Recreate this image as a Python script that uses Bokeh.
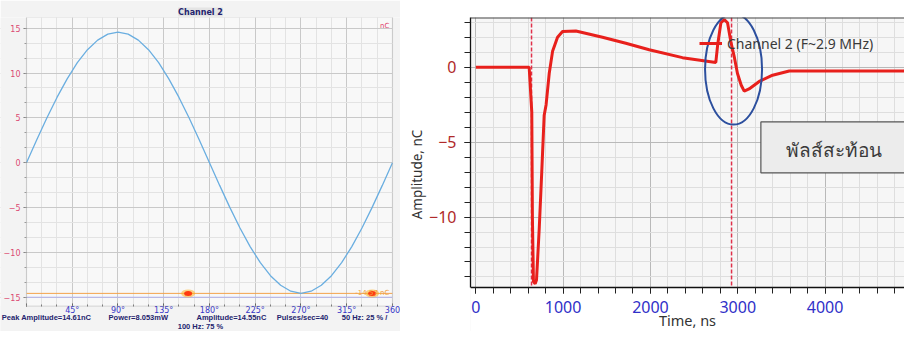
import numpy as np
from bokeh.plotting import figure
from bokeh.layouts import row
from bokeh.models import (Range1d, FixedTicker, Span, Label, Legend, LegendItem, LinearAxis,
                          BoxAnnotation)
from bokeh.core.properties import value
from bokeh.embed import file_html
from bokeh.resources import INLINE

# ---------------- Left panel data (phase-resolved view) ----------------
phase_deg = [0, 10, 20, 30, 40, 50, 60, 70, 80, 90, 100, 110, 120, 130, 140, 150, 160, 170, 180,
             190, 200, 210, 220, 230, 240, 250, 260, 270, 280, 290, 300, 310, 320, 330, 340, 350, 360]
sine_nc = [0.0, 2.53, 4.98, 7.28, 9.35, 11.15, 12.60, 13.67, 14.33, 14.55, 14.33, 13.67, 12.60, 11.15,
           9.35, 7.28, 4.98, 2.53, 0.0, -2.53, -4.98, -7.28, -9.35, -11.15, -12.60, -13.67, -14.33,
           -14.58, -14.33, -13.67, -12.60, -11.15, -9.35, -7.28, -4.98, -2.53, 0.0]
threshold_nc = -14.57
threshold_label = "-14.57 nC"
pulse_phase = [159, 340]
pulse_nc = [-14.57, -14.57]
phase_ticks = [0, 45, 90, 135, 180, 225, 270, 315, 360]
phase_labels = ["", "45°", "90°", "135°", "180°", "225°", "270°", "315°", "360"]
left_y_ticks = [-15, -10, -5, 0, 5, 10, 15]
status_pos = [19.7, 110, 201.6, 271.5, 332.5]
status_text = ["Peak Amplitude=14.61nC", "Power=8.053mW", "Amplitude=14.55nC", "Pulses/sec=40",
               "50 Hz: 25 % /"]
status_line2 = "100 Hz: 75 %"

# ---------------- Right panel data (pulse waveform) ----------------
time_ns = [0, 611, 641, 648, 660, 680, 695, 726, 755, 783, 805, 841, 879, 936, 993, 1146, 1451, 1718,
           1986, 2367, 2749, 2770, 2807, 2845, 2883, 2921, 2960, 2997, 3040, 3074, 3130, 3246, 3399,
           3590, 4000, 4500, 4905, 4990, 5077, 5120]
amp_nc = [0, 0, -3, -10, -14.3, -14.45, -14.2, -10.8, -7, -3.2, -2.5, -0.4, 1.06, 2.0, 2.38, 2.42, 2.0,
          1.6, 1.17, 0.64, 0.32, 1.5, 2.97, 3.18, 2.97, 1.7, 0.7, -0.42, -1.2, -1.6, -1.45, -0.95, -0.53,
          -0.25, -0.25, -0.25, -0.25, 0.0, 0.3, 0.4]
cursor_times = [638, 2929]
time_ticks = [0, 1000, 2000, 3000, 4000, 5000]
amp_ticks = [-10, -5, 0]
legend_label = "Channel 2 (F~2.9 MHz)"
reflect_x, reflect_y, reflect_w, reflect_h = [2952], [-0.13], [653], [7.4]
note_x, note_y, note_w, note_h = [4170], [-5.35], [1810], [3.4]
note_text_x, note_text_y = [4103], [-5.55]
note_text = ["พัลส์สะท้อน"]

FONT_L = "DejaVu Sans"
FONT_R = "Noto Sans"
PANEL_BG = "#f3f3f3"

# view extents (data units)
L_XV0, L_XV1 = -25.57, 367.9          # whole left canvas width
L_X0, L_X1 = 0, 360                   # plot box
L_YB, L_Y1 = -18.82, 16.19
L_BOX_Y0 = -16
R_X0, R_X1, R_YB, R_Y1 = -61, 4910, -17.64, 3.32
R_AXIS_Y = -14.7

# ======================= LEFT FIGURE =======================
L = figure(width=400, height=331, x_range=Range1d(L_XV0, L_XV1), y_range=Range1d(L_YB, L_Y1),
           output_backend="svg", toolbar_location=None,
           min_border_left=0, min_border_right=0, min_border_top=17, min_border_bottom=0)
L.background_fill_color = "#f8f8f8"
L.border_fill_color = PANEL_BG
L.outline_line_color = None

L.title.text = "Channel 2"
L.title.align = "center"
L.title.text_font = FONT_L
L.title.text_font_size = "8px"
L.title.text_font_style = "bold"
L.title.text_color = "#23236e"
L.title.background_fill_color = "#e4e4e4"
L.title.standoff = 2
L.title.offset = 0

L.xaxis.fixed_location = L_BOX_Y0
L.xaxis.ticker = FixedTicker(ticks=phase_ticks, minor_ticks=list(range(0, 361, 15)))
L.xaxis.major_label_overrides = {t: s for t, s in zip(phase_ticks, phase_labels)}
L.xaxis.axis_line_color = None
L.xaxis.major_tick_in = 3
L.xaxis.major_tick_out = 0
L.xaxis.minor_tick_in = 2
L.xaxis.minor_tick_out = 0
L.xaxis.major_tick_line_color = "#555555"
L.xaxis.minor_tick_line_color = "#777777"
L.xaxis.major_label_text_color = "#3535c8"
L.xaxis.major_label_text_font = FONT_L
L.xaxis.major_label_text_font_size = "8px"
L.xaxis.major_label_standoff = 0

status_axis = LinearAxis(ticker=FixedTicker(ticks=status_pos),
                         major_label_overrides={p: s for p, s in zip(status_pos, status_text)},
                         axis_line_color=None, major_tick_line_color=None, minor_tick_line_color=None,
                         major_tick_out=0, major_tick_in=0,
                         major_label_standoff=7, major_label_text_font="Liberation Sans",
                         major_label_text_font_style="bold", major_label_text_font_size="7.5px",
                         major_label_text_color="#23236e",
                         axis_label=status_line2, axis_label_standoff=-4,
                         axis_label_text_font="Liberation Sans", axis_label_text_font_style="bold",
                         axis_label_text_font_size="7.5px", axis_label_text_color="#23236e",
                         fixed_location=L_BOX_Y0)
L.add_layout(status_axis, "below")

L.yaxis.fixed_location = L_X0
L.yaxis.ticker = FixedTicker(ticks=left_y_ticks, minor_ticks=list(np.arange(-15, 15.01, 5 / 3)))
L.yaxis.bounds = (L_BOX_Y0, L_Y1)
L.yaxis.axis_line_color = None
L.yaxis.major_tick_in = 0
L.yaxis.major_tick_out = 3
L.yaxis.minor_tick_in = 0
L.yaxis.minor_tick_out = 2
L.yaxis.major_tick_line_color = "#777777"
L.yaxis.minor_tick_line_color = "#999999"
L.yaxis.major_label_text_color = "#dc4a72"
L.yaxis.major_label_text_font = FONT_L
L.yaxis.major_label_text_font_size = "8px"
L.yaxis.major_label_standoff = 3

L.xgrid.grid_line_color = "#c9c9c9"
L.ygrid.grid_line_color = "#c9c9c9"
L.xgrid.minor_grid_line_color = "#e3e3e3"
L.ygrid.minor_grid_line_color = "#e3e3e3"

L.add_layout(Span(location=-15, dimension="width", line_color="#b4b4ee", line_width=1, level="underlay"))
L.add_layout(Span(location=threshold_nc, dimension="width", line_color="#f3a24a", line_width=1,
                  level="underlay"))
# everything outside the plot box takes the panel colour
L.add_layout(BoxAnnotation(bottom=L_YB, top=L_BOX_Y0, fill_color=PANEL_BG,
                           fill_alpha=1.0, line_color=None, level="underlay"))
L.add_layout(BoxAnnotation(left=L_XV0, right=L_X0, fill_color=PANEL_BG,
                           fill_alpha=1.0, line_color=None, level="underlay"))
L.add_layout(BoxAnnotation(left=L_X1, right=L_XV1, fill_color=PANEL_BG,
                           fill_alpha=1.0, line_color=None, level="underlay"))
L.add_layout(BoxAnnotation(left=L_X0, right=L_X1, bottom=L_BOX_Y0, top=L_Y1, fill_color=None,
                           line_color="#9a9a9a", line_width=1.2))

L.line(phase_deg, sine_nc, line_color="#6aaee0", line_width=1.3)
L.ellipse(x=pulse_phase, y=pulse_nc, width=14, height=8, width_units="screen", height_units="screen",
          fill_color="#ffb020", fill_alpha=0.55, line_color=None)
L.ellipse(x=pulse_phase, y=pulse_nc, width=8, height=5, width_units="screen", height_units="screen",
          fill_color="#ff3a10", line_color=None)
L.add_layout(Label(x=357, y=threshold_nc, text=threshold_label, text_align="right", text_baseline="middle",
                   text_font=FONT_L, text_font_size="7px", text_color="#f0a040"))
L.add_layout(Label(x=357, y=15.2, text="nC", text_align="right", text_baseline="middle",
                   text_font=FONT_L, text_font_size="7px", text_color="#e0406a"))

# ======================= RIGHT FIGURE =======================
R = figure(width=504, height=331, x_range=Range1d(R_X0, R_X1), y_range=Range1d(R_YB, R_Y1),
           output_backend="svg", toolbar_location=None,
           min_border_left=70, min_border_right=0, min_border_top=17, min_border_bottom=0)
R.title = None
R.background_fill_color = "#f6f6f6"
R.border_fill_color = "white"
R.outline_line_color = None

R.xaxis.ticker = FixedTicker(ticks=time_ticks, minor_ticks=list(range(0, 5201, 200)))
R.yaxis.ticker = FixedTicker(ticks=amp_ticks, minor_ticks=list(range(-14, 4)))
for ax in (R.xaxis[0], R.yaxis[0]):
    ax.axis_line_color = "#111111"
    ax.axis_line_width = 1.3
    ax.major_tick_in = 0
    ax.major_tick_out = 6
    ax.minor_tick_in = 0
    ax.minor_tick_out = 6
    ax.major_tick_line_color = "#222222"
    ax.minor_tick_line_color = "#222222"
    ax.major_label_text_font = FONT_R
    ax.major_label_text_font_size = "16px"
    ax.axis_label_text_font = FONT_R
    ax.axis_label_text_font_style = "normal"
    ax.axis_label_text_color = "#333333"
R.xaxis.fixed_location = R_AXIS_Y
R.yaxis.bounds = (R_AXIS_Y, R_Y1)
R.xaxis.major_label_text_color = "#3030c8"
R.yaxis.major_label_text_color = "#b02a2a"
R.xaxis.major_label_standoff = 8
R.yaxis.major_label_standoff = 8
R.xaxis.axis_label = "Time, ns"
R.xaxis.axis_label_text_font_size = "14.5px"
R.xaxis.axis_label_standoff = -7
R.yaxis.axis_label = "Amplitude, nC"
R.yaxis.axis_label_text_font_size = "13.5px"
R.yaxis.axis_label_standoff = 0

R.xgrid.grid_line_color = "#b9b9b9"
R.ygrid.grid_line_color = "#b9b9b9"
R.xgrid.minor_grid_line_color = "#dedede"
R.ygrid.minor_grid_line_color = "#dedede"

for t in cursor_times:
    R.add_layout(Span(location=t, dimension="height", line_color="#e0304a", line_width=1.5,
                      line_dash="4 2", level="underlay"))
# white area below the time axis
R.add_layout(BoxAnnotation(left=R_X0, right=R_X1, bottom=R_YB, top=R_AXIS_Y, fill_color="white",
                           fill_alpha=1.0, line_color=None, level="underlay"))
R.add_layout(Span(location=R_Y1, dimension="width", line_color="#444444", line_width=2))

trace = R.line(time_ns, amp_nc, line_color="#e8201c", line_width=3)

R.ellipse(x=reflect_x, y=reflect_y, width=reflect_w, height=reflect_h, fill_color=None,
          line_color="#2c4f9e", line_width=2)
R.rect(x=note_x, y=note_y, width=note_w, height=note_h, fill_color="#ececec", line_color="#555555",
       line_width=1.2)
R.text(x=note_text_x, y=note_text_y, text=note_text, text_align="center", text_baseline="middle",
       text_font=value(FONT_R), text_font_size="19px", text_color="#3a3a3a")

legend = Legend(items=[LegendItem(label=legend_label, renderers=[trace])], location=(229, 278),
                background_fill_alpha=0, border_line_color=None, padding=0, margin=0, spacing=0,
                glyph_width=23, glyph_height=20, label_height=20, label_standoff=5,
                label_text_font=FONT_R, label_text_font_size="14px", label_text_color="#3a3a3a")
R.add_layout(legend)

layout = row(L, R)
open("out.html", "w").write(file_html(layout, INLINE))
